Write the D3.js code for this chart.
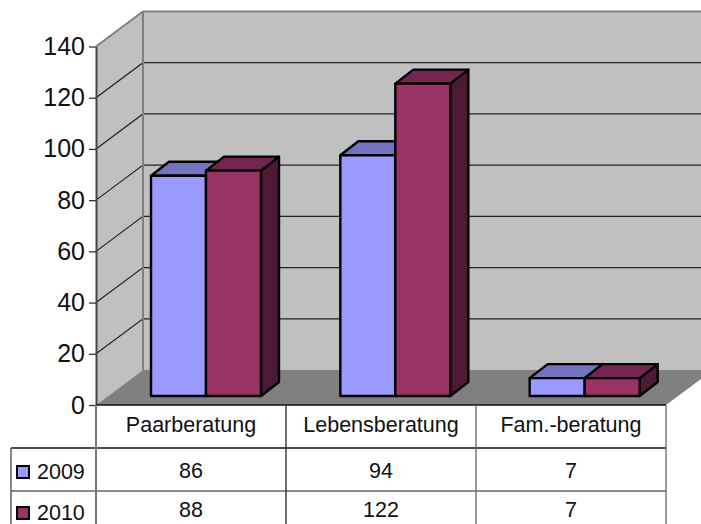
<!DOCTYPE html>
<html>
<head>
    <meta charset="utf-8">
    <script src="https://cdnjs.cloudflare.com/ajax/libs/d3/7.8.5/d3.min.js"></script>
    <style>
      html, body { margin: 0; padding: 0; background: #fff; }
      svg { display: block; }
      text { font-family: "Liberation Sans", Arial, sans-serif; fill: #111; }
    </style>
</head>
<body>
    <svg id="chart" width="701" height="524"></svg>
    <script>
      const categories = ['Paarberatung', 'Lebensberatung', 'Fam.-beratung']
      const years = ['2009', '2010']
      const values2009 = [86, 94, 7]
      const values2010 = [88, 122, 7]
      const yTicks = [0, 20, 40, 60, 80, 100, 120, 140]
      const colors = ['#9999ff', '#993366']
      const topColors = ['#7373bf', '#732650']
      const sideColors = ['#4d4d80', '#4d1a33']

      const series = [values2009, values2010]

      const svg = d3.select('#chart')

      // plot frame
      const left = 96, right = 666, floorY = 405, topY = 46.5
      const depthX = 47, depthY = 35       // wall depth
      const barDepthX = 18, barDepthY = 14 // bar depth
      const barShift = 9                   // bars sit a little in front of the back wall

      const x = d3.scaleBand().domain(categories).range([left, right])
      // bars step slightly tighter than the table columns
      const xBars = d3.scaleBand().domain(categories).range([left, 664])
      const xInner = d3.scaleBand().domain(years).range([55, 165])
      const y = d3.scaleLinear().domain([0, 140]).range([floorY, topY])

      const poly = pts => pts.map(p => p.join(',')).join(' ')

      // back wall and side wall
      svg.append('rect')
        .attr('x', left + depthX).attr('y', y(140) - depthY)
        .attr('width', 701 - left - depthX).attr('height', floorY - topY)
        .attr('fill', '#c0c0c0')
      svg.append('polygon')
        .attr('points', poly([[left, y(140)], [left + depthX, y(140) - depthY], [left + depthX, floorY - depthY], [left, floorY]]))
        .attr('fill', '#c0c0c0')

      // floor
      svg.append('polygon')
        .attr('points', poly([[left, floorY], [left + depthX, floorY - depthY], [right + depthX, floorY - depthY], [right, floorY]]))
        .attr('fill', '#808080')

      // gridlines
      yTicks.slice(1, -1).forEach(t => {
        svg.append('polyline')
          .attr('points', poly([[left, y(t)], [left + depthX, y(t) - depthY], [701, y(t) - depthY]]))
          .attr('fill', 'none').attr('stroke', '#222').attr('stroke-width', 1.2)
      })
      svg.append('polyline')
        .attr('points', poly([[left, y(140)], [left + depthX, y(140) - depthY], [701, y(140) - depthY]]))
        .attr('fill', 'none').attr('stroke', '#808080').attr('stroke-width', 2)
      svg.append('line')
        .attr('x1', left + depthX).attr('x2', left + depthX)
        .attr('y1', y(140) - depthY).attr('y2', floorY - depthY)
        .attr('stroke', '#808080').attr('stroke-width', 2)

      // bars
      categories.forEach((c, i) => {
        years.forEach((yr, s) => {
          const v = series[s][i]
          const x0 = xBars(c) + xInner(yr), x1 = x0 + xInner.bandwidth()
          const yTop = y(v) - barShift, yBase = y(0) - barShift
          const g = svg.append('g')
            .attr('stroke', '#000').attr('stroke-width', 2.4).attr('stroke-linejoin', 'round')
          g.append('polygon')
            .attr('points', poly([[x1, yTop], [x1 + barDepthX, yTop - barDepthY], [x1 + barDepthX, yBase - barDepthY], [x1, yBase]]))
            .attr('fill', sideColors[s])
          g.append('polygon')
            .attr('points', poly([[x0, yTop], [x0 + barDepthX, yTop - barDepthY], [x1 + barDepthX, yTop - barDepthY], [x1, yTop]]))
            .attr('fill', topColors[s])
          g.append('rect')
            .attr('x', x0).attr('y', yTop)
            .attr('width', x1 - x0).attr('height', yBase - yTop)
            .attr('fill', colors[s])
        })
      })

      // y axis
      const axis = svg.append('g')
        .attr('transform', 'translate(' + left + ',0)')
        .call(d3.axisLeft(y).tickValues(yTicks).tickSize(7).tickPadding(4).tickSizeOuter(0))
      axis.select('path').attr('stroke', '#444').attr('stroke-width', 2)
      axis.selectAll('line').attr('stroke', '#333').attr('stroke-width', 1.3)
      axis.selectAll('text')
        .style('font-family', '"Liberation Sans", Arial, sans-serif')
        .style('font-size', '25px').attr('fill', '#111')

      // data table
      const rowY = [405, 448, 491, 524]
      const hLine = (x1, x2, yy, col) => svg.append('line')
        .attr('x1', x1).attr('x2', x2).attr('y1', yy).attr('y2', yy)
        .attr('stroke', col).attr('stroke-width', 1.3)
      const vLine = (xx, y1, col, w) => svg.append('line')
        .attr('x1', xx).attr('x2', xx).attr('y1', y1).attr('y2', 524)
        .attr('stroke', col).attr('stroke-width', w || 1.3)

      hLine(left, right, rowY[0], '#111')
      hLine(11, right, rowY[1], '#111')
      hLine(11, right, rowY[2], '#666')
      vLine(11, rowY[1], '#444')
      vLine(left, rowY[0], '#777', 2)
      categories.forEach((c, i) => {
        vLine(x(c) + x.bandwidth(), rowY[0], i == 0 ? '#222' : '#666')
      })

      categories.forEach((c, i) => {
        svg.append('text')
          .attr('x', x(c) + x.bandwidth() / 2).attr('y', 432)
          .attr('text-anchor', 'middle').style('font-size', '21.5px')
          .text(c)
        series.forEach((vals, s) => {
          svg.append('text')
            .attr('x', x(c) + x.bandwidth() / 2).attr('y', s == 0 ? 478 : 517)
            .attr('text-anchor', 'middle').style('font-size', '21.5px')
            .text(vals[i])
        })
      })

      years.forEach((yr, s) => {
        const ty = s == 0 ? 479 : 520
        svg.append('rect')
          .attr('x', 17).attr('y', ty - 13).attr('width', 12).attr('height', 12)
          .attr('fill', colors[s]).attr('stroke', '#000').attr('stroke-width', 2)
        svg.append('text')
          .attr('x', 37).attr('y', ty).style('font-size', '21.5px')
          .text(yr)
      })
    </script>
</body>
</html>
